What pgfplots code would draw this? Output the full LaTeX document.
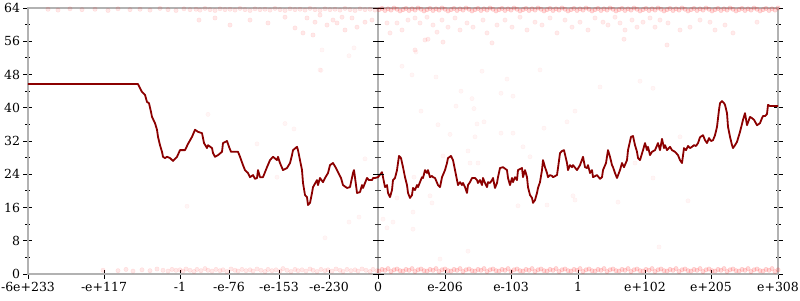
\documentclass[border=0pt]{standalone}
\usepackage{pgfplots}
\pgfplotsset{compat=1.18}
\usepackage{fontspec}
\setmainfont{DejaVu Serif}
\definecolor{axisgray}{RGB}{178,178,178}
\definecolor{linered}{RGB}{139,0,0}
\begin{document}
\begin{tikzpicture}
\pgfplotsset{
  cloud/.style={only marks, mark=*, mark size=2.2pt,
    mark options={draw=red, fill=red, draw opacity=#1, fill opacity=#1}},
}
\begin{axis}[
  width=750pt, height=266pt, scale only axis,
  ymin=0, ymax=64,
  ytick={0,8,...,64}, minor y tick num=1,
  tick align=center,
  tick style={black, line width=0.9pt},
  /pgf/number format/assume math mode=true,
  tick label style={font=\fontsize{12.5}{14}\selectfont},
  xmin=28, xmax=778,
  axis line style={draw=axisgray, line width=2pt},
  xtick={28,104,180,229,279,329,378,445,511,578,645,711,778},
  xticklabels={-6e+233,-e+117,-1,-e-76,-e-153,-e-230,0,e-206,e-103,1,e+102,e+205,e+308},
  xtick pos=bottom, ytick pos=both, yticklabel pos=left,
  major tick length=9pt, minor tick length=5pt,
  clip=false,
]
% middle vertical axis line at value 0, with its ticks
\addplot[axisgray, line width=2pt] coordinates {(378,0)(378,64)};
\addplot[only marks, mark=-, mark size=5.5pt, mark options={black, line width=0.9pt}]
  coordinates {(378,0)(378,8)(378,16)(378,24)(378,32)(378,40)(378,48)(378,56)(378,64)};
\addplot[only marks, mark=-, mark size=3pt, mark options={black!75, line width=0.8pt}]
  coordinates {(378,4)(378,12)(378,20)(378,28)(378,36)(378,44)(378,52)(378,60)};
% faint points, left half
\addplot[cloud=0.09] coordinates {
(103,0.9)(118,0.8)(126,1.1)(133,0.7)(142,1.0)(150,0.8)(157,1.2)(163,0.9)(168,0.7)(172,1.1)(176,0.9)
(180,1.0)(183,0.7)(186,1.2)(190,0.9)(194,0.6)(197,1.1)(201,0.8)(205,1.3)(208,0.9)(212,0.7)(216,1.1)(220,0.8)
(223,1.0)(227,0.6)(231,1.2)(235,0.9)(238,0.7)(242,1.1)(246,0.8)(250,1.0)(253,0.7)(257,1.2)(261,0.9)(265,0.6)
(268,1.1)(272,0.8)(276,1.0)(280,0.7)(283,1.3)(287,0.9)(291,0.6)(295,1.1)(298,0.8)(302,1.0)(306,0.7)(310,1.2)
(313,0.9)(317,0.6)(321,1.1)(325,0.8)(328,1.0)(332,0.7)(336,1.2)(340,0.9)(343,0.6)(347,1.1)(351,0.8)(355,1.0)
(358,0.7)(362,1.2)(366,0.9)(370,0.6)(373,1.1)(377,0.8)
(48,63.7)(58,63.5)(70,63.8)(82,63.6)(95,63.7)(108,63.4)(118,63.8)(130,63.6)(140,63.7)(150,63.5)(160,63.9)
(168,63.6)(176,63.4)(184,63.8)(190,63.6)(196,63.7)(200,63.5)(205,63.9)(210,63.6)(215,63.4)(220,63.8)(225,63.6)
(230,63.7)(235,63.5)(240,63.9)(245,63.6)(250,63.4)(255,63.8)(260,63.6)(265,63.7)(270,63.5)(275,63.9)(280,63.6)
(285,63.4)(290,63.8)(295,63.6)(300,63.7)(305,63.5)(310,63.9)(315,63.6)(320,63.4)(325,63.8)(330,63.6)(335,63.7)
(340,63.5)(345,63.9)(350,63.6)(355,63.4)(360,63.8)(365,63.6)(370,63.7)(375,63.5)
(199,61.1)(215,61.6)(230,59.9)(250,61.1)(268,60.4)(285,61.8)(295,59.2)(307,61.6)(315,60.6)(320,62.3)(327,59.9)
(333,61.1)(337,60.4)(342,61.8)(345,58.7)(352,61.6)(357,59.4)(365,60.6)(372,61.1)(303,58.0)(313,57.5)
};
% faint points, right half (denser)
\addplot[cloud=0.15] coordinates {
(379,0.7)(382,1.1)(385,0.9)(388,1.3)(391,0.6)(394,1.0)(397,1.2)(400,0.8)
(403,0.7)(406,1.1)(409,0.9)(412,1.3)(415,0.6)(418,1.0)(421,1.2)(424,0.8)
(427,0.7)(430,1.1)(433,0.9)(436,1.3)(439,0.6)(442,1.0)(445,1.2)(448,0.8)
(451,0.7)(454,1.1)(457,0.9)(460,1.3)(463,0.6)(466,1.0)(469,1.2)(472,0.8)
(475,0.7)(478,1.1)(481,0.9)(484,1.3)(487,0.6)(490,1.0)(493,1.2)(496,0.8)
(499,0.7)(502,1.1)(505,0.9)(508,1.3)(511,0.6)(514,1.0)(517,1.2)(520,0.8)
(523,0.7)(526,1.1)(529,0.9)(532,1.3)(535,0.6)(538,1.0)(541,1.2)(544,0.8)
(547,0.7)(550,1.1)(553,0.9)(556,1.3)(559,0.6)(562,1.0)(565,1.2)(568,0.8)
(571,0.7)(574,1.1)(577,0.9)(580,1.3)(583,0.6)(586,1.0)(589,1.2)(592,0.8)
(595,0.7)(598,1.1)(601,0.9)(604,1.3)(607,0.6)(610,1.0)(613,1.2)(616,0.8)
(619,0.7)(622,1.1)(625,0.9)(628,1.3)(631,0.6)(634,1.0)(637,1.2)(640,0.8)
(643,0.7)(646,1.1)(649,0.9)(652,1.3)(655,0.6)(658,1.0)(661,1.2)(664,0.8)
(667,0.7)(670,1.1)(673,0.9)(676,1.3)(679,0.6)(682,1.0)(685,1.2)(688,0.8)
(691,0.7)(694,1.1)(697,0.9)(700,1.3)(703,0.6)(706,1.0)(709,1.2)(712,0.8)
(715,0.7)(718,1.1)(721,0.9)(724,1.3)(727,0.6)(730,1.0)(733,1.2)(736,0.8)
(739,0.7)(742,1.1)(745,0.9)(748,1.3)(751,0.6)(754,1.0)(757,1.2)(760,0.8)
(763,0.7)(766,1.1)(769,0.9)(772,1.3)(775,0.6)(778,1.0)
(379,63.6)(382,63.9)(385,63.4)(388,63.8)(391,63.5)(394,64.0)(397,63.7)(400,63.3)
(403,63.6)(406,63.9)(409,63.4)(412,63.8)(415,63.5)(418,64.0)(421,63.7)(424,63.3)
(427,63.6)(430,63.9)(433,63.4)(436,63.8)(439,63.5)(442,64.0)(445,63.7)(448,63.3)
(451,63.6)(454,63.9)(457,63.4)(460,63.8)(463,63.5)(466,64.0)(469,63.7)(472,63.3)
(475,63.6)(478,63.9)(481,63.4)(484,63.8)(487,63.5)(490,64.0)(493,63.7)(496,63.3)
(499,63.6)(502,63.9)(505,63.4)(508,63.8)(511,63.5)(514,64.0)(517,63.7)(520,63.3)
(523,63.6)(526,63.9)(529,63.4)(532,63.8)(535,63.5)(538,64.0)(541,63.7)(544,63.3)
(547,63.6)(550,63.9)(553,63.4)(556,63.8)(559,63.5)(562,64.0)(565,63.7)(568,63.3)
(571,63.6)(574,63.9)(577,63.4)(580,63.8)(583,63.5)(586,64.0)(589,63.7)(592,63.3)
(595,63.6)(598,63.9)(601,63.4)(604,63.8)(607,63.5)(610,64.0)(613,63.7)(616,63.3)
(619,63.6)(622,63.9)(625,63.4)(628,63.8)(631,63.5)(634,64.0)(637,63.7)(640,63.3)
(643,63.6)(646,63.9)(649,63.4)(652,63.8)(655,63.5)(658,64.0)(661,63.7)(664,63.3)
(667,63.6)(670,63.9)(673,63.4)(676,63.8)(679,63.5)(682,64.0)(685,63.7)(688,63.3)
(691,63.6)(694,63.9)(697,63.4)(700,63.8)(703,63.5)(706,64.0)(709,63.7)(712,63.3)
(715,63.6)(718,63.9)(721,63.4)(724,63.8)(727,63.5)(730,64.0)(733,63.7)(736,63.3)
(739,63.6)(742,63.9)(745,63.4)(748,63.8)(751,63.5)(754,64.0)(757,63.7)(760,63.3)
(763,63.6)(766,63.9)(769,63.4)(772,63.8)(775,63.5)(778,64.0)
};
\addplot[cloud=0.08] coordinates {
(387,60.4)(390,58.0)(397,60.4)(402,58.7)(408,61.1)(415,61.6)(420,60.4)(427,61.8)(433,59.9)(437,58.2)
(442,61.1)(448,59.4)(455,61.6)(460,58.7)(467,60.4)(473,59.4)(483,61.1)(487,58.0)(492,55.6)(497,59.9)
(425,56.3)(428,56.5)(443,55.8)(415,53.9)(505,61.1)(512,59.4)(520,61.8)(527,58.7)(535,60.6)(542,59.9)
(550,61.6)(557,58.0)(565,61.1)(572,59.4)(580,60.6)(588,58.7)(595,61.6)(603,60.6)(608,59.9)(615,61.8)
(620,60.4)(625,58.7)(632,61.1)(637,59.4)(643,60.6)(650,61.6)(655,59.4)(660,61.1)(668,60.4)(680,58.7)
(690,59.4)(700,61.1)(710,60.6)(715,58.7)(725,59.9)(733,58.0)(757,60.6)(624,56.5)(667,55.1)
};
% scattered points in the middle
\addplot[cloud=0.04] coordinates {
(187,16.3)(208,38.4)(321,49.0)(285,36.2)(294,34.9)(257,31.3)(277,23.3)(365,27.7)
(412,47.9)(436,47.4)(482,48.8)(461,44.0)(472,42.2)(456,40.4)(474,39.8)(421,39.2)
(484,36.6)(477,36.1)(438,35.9)(501,33.9)(450,33.6)(475,33.0)(468,29.6)(501,43.5)
(397,18.3)(432,17.1)(430,18.8)(414,23.3)(540,49.1)(507,46.9)(600,45.0)(513,42.8)
(575,39.2)(567,36.6)(544,35.1)(513,33.9)(523,30.6)(530,28.2)(635,26.7)(573,18.8)
(575,17.8)(547,16.6)(618,17.3)(518,16.4)(322,53.9)(320,49.1)(349,52.5)(354,54.4)
(416,53.4)(402,50.0)(640,46.4)(653,44.7)(680,33.0)(653,23.1)(688,17.6)(659,6.5)
(349,12.5)(359,13.7)(325,8.7)(383,13.2)(393,12.5)(387,11.1)(413,10.8)(413,14.9)
(443,28.4)(470,26.7)(478,26.7)(468,5.5)(440,3.6)
};
% main series
\addplot[linered, line width=1.8pt, line join=round] coordinates {
(28,45.7)(138,45.7)(140,44.7)(142,43.8)(145,43.1)(147,41.4)(149,41.1)(151,39.0)(152,37.8)(155,36.3)
(157,34.7)(158,33.0)(160,31.0)(162,29.4)(163,28.2)(165,27.9)(167,28.2)(170,27.9)(173,27.2)(177,28.2)
(180,29.8)(185,29.8)(188,31.3)(192,33.0)(195,34.7)(198,34.2)(202,33.9)(204,31.5)(207,30.3)(208,31.0)
(212,30.3)(213,29.1)(215,28.2)(218,28.6)(222,29.4)(223,31.5)(227,32.0)(229,30.6)(231,29.4)(233,29.4)
(238,29.4)(240,28.2)(243,26.2)(245,25.0)(248,24.3)(250,23.3)(253,23.8)(255,22.9)(257,23.1)(258,25.0)
(260,23.3)(263,23.3)(267,25.7)(270,27.4)(273,28.2)(277,27.4)(278,28.2)(280,26.7)(283,25.0)(287,25.5)
(290,26.7)(292,28.6)(293,29.8)(297,30.6)(298,29.8)(300,27.4)(302,25.0)(303,21.9)(305,19.0)(307,18.5)
(308,16.6)(310,17.1)(312,19.5)(313,20.9)(317,22.6)(318,21.4)(320,23.1)(323,22.1)(325,23.1)(328,24.3)
(330,26.2)(333,26.7)(336,25.5)(338,24.5)(341,23.1)(343,21.4)(347,20.7)(350,20.9)(353,24.3)(354,25.0)
(356,21.4)(357,19.5)(360,19.7)(362,21.4)(363,20.7)(367,23.1)(369,22.6)(372,22.6)(373,23.1)(375,23.1)
(378,23.3)(382,24.5)(383,23.3)(385,20.9)(387,21.4)(388,19.5)(390,18.5)(392,20.2)(393,22.6)(395,23.1)
(397,25.0)(399,28.4)(401,27.9)(403,25.7)(405,23.3)(407,21.4)(408,19.5)(410,18.3)(412,19.0)(413,20.7)
(415,20.2)(417,21.4)(418,20.9)(420,22.1)(422,23.3)(423,23.1)(425,25.0)(427,24.3)(428,25.0)(430,23.3)
(432,23.6)(433,23.3)(435,23.1)(438,21.4)(440,20.9)(442,23.3)(445,25.0)(447,26.7)(448,27.9)(451,28.4)
(453,27.4)(455,25.0)(457,22.6)(458,21.4)(460,22.1)(462,21.4)(463,21.9)(465,20.9)(467,19.5)(468,21.4)
(470,22.1)(472,23.1)(475,23.1)(477,22.6)(478,21.9)(480,22.6)(482,21.4)(483,23.1)(485,21.9)(487,20.9)
(488,22.1)(490,21.9)(492,22.6)(493,23.1)(495,20.7)(497,21.9)(498,23.3)(500,25.5)(503,25.7)(507,25.0)
(508,23.1)(510,21.4)(512,23.1)(513,22.1)(515,23.3)(517,22.6)(518,25.0)(522,25.5)(523,23.3)(525,25.0)
(527,23.3)(528,20.9)(530,19.0)(532,18.3)(533,17.1)(535,17.8)(537,19.5)(538,20.7)(540,22.1)(542,25.0)
(543,27.4)(545,25.7)(547,24.3)(548,23.3)(550,23.8)(552,23.6)(553,23.3)(557,23.8)(558,25.5)(560,29.1)
(562,29.6)(564,29.8)(567,26.7)(568,25.0)(570,26.2)(572,25.7)(573,26.2)(577,25.0)(580,26.2)(583,28.2)
(585,25.7)(587,25.5)(588,26.2)(590,24.3)(592,25.0)(593,23.3)(597,23.8)(600,22.9)(602,23.3)(603,25.0)
(606,26.7)(608,29.8)(610,28.2)(612,26.2)(613,25.7)(615,24.3)(617,23.1)(620,25.0)(622,26.7)(624,25.7)
(627,27.4)(628,29.8)(631,33.0)(633,33.2)(635,31.0)(637,29.4)(638,27.9)(640,27.4)(643,29.8)(645,31.5)
(647,29.8)(648,30.6)(650,28.6)(652,29.4)(655,29.8)(658,31.5)(660,29.8)(662,32.5)(664,30.3)(665,31.0)
(667,29.8)(670,30.6)(672,29.8)(675,29.4)(678,28.6)(680,27.4)(682,26.7)(684,30.3)(686,29.8)(688,30.8)
(690,30.3)(692,30.6)(694,31.0)(696,30.8)(698,31.5)(700,32.9)(703,33.4)(705,32.2)(707,31.5)(709,32.7)
(711,32.0)(713,32.2)(715,33.4)(717,35.4)(719,39.5)(720,41.1)(722,41.6)(724,41.1)(725,40.7)(727,38.7)
(728,35.4)(730,33.0)(732,31.0)(733,30.3)(735,31.0)(737,31.8)(740,34.2)(742,36.1)(743,37.1)(745,38.7)
(747,35.8)(750,37.8)(752,37.5)(754,37.1)(757,35.8)(760,36.3)(762,37.5)(763,38.0)(765,38.0)(767,38.5)
(768,40.7)(770,40.4)(778,40.4)
};
\end{axis}
\pgfresetboundingbox
\path ([shift={(-28pt,-26pt)}]current axis.south west) rectangle ([shift={(22pt,8pt)}]current axis.north east);
\end{tikzpicture}
\end{document}
